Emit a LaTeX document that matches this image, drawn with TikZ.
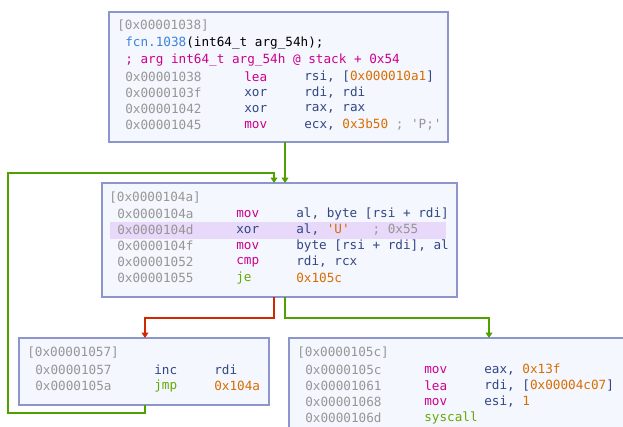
\documentclass[tikz,border=0pt]{standalone}
\usepackage{fontspec}
\setmonofont{DejaVu Sans Mono}
\usetikzlibrary{arrows.meta}
\definecolor{boxline}{RGB}{140,150,205}
\definecolor{boxfill}{RGB}{245,247,255}
\definecolor{addrgray}{RGB}{150,150,150}
\definecolor{opblue}{RGB}{50,70,130}
\definecolor{mnmag}{RGB}{205,0,140}
\definecolor{numorange}{RGB}{215,110,0}
\definecolor{jmpgreen}{RGB}{100,170,0}
\definecolor{fcnblue}{RGB}{60,130,220}
\definecolor{hilite}{RGB}{232,216,250}
\definecolor{edgegreen}{RGB}{80,160,0}
\definecolor{edgered}{RGB}{210,40,0}
\tikzset{
  block/.style={draw=boxline, fill=boxfill, line width=0.8pt},
  txt/.style={anchor=west, inner sep=0pt, font=\ttfamily\fontsize{9.5}{12}\selectfont},
  flow/.style={line width=1.3pt, -{Triangle[length=4pt,width=5pt]}},
}
% one line of disassembly: name, y, x of address, address, mnemonic, colour, operand
\newcommand\asmline[7]{%
  \node[txt, text=addrgray] (#1a) at (#3, #2) {#4};
  \node[txt, text=#6] (#1m) at (#3+119, #2) {#5};
  \node[txt, text=opblue] (#1o) at (#3+179, #2) {#7};
}
\begin{document}
\begin{tikzpicture}[x=0.75pt,y=0.75pt,yscale=-1,xscale=1]
  \useasboundingbox (0,0) rectangle (623,426);
  %blocks
  \draw[block] (109,12) rectangle (448,142);
  \draw[block] (102,183) rectangle (457,297);
  \fill[hilite] (110,222) rectangle (446,239);
  \draw[block] (19,338) rectangle (269,405);
  \draw[block] (289,338) rectangle (640,440);
  %
  %entry block
  \node[txt, text=addrgray] (h1) at (117,26) {[0x00001038]};
  \node[txt] (fcn) at (125,43) {\textcolor{fcnblue}{fcn.1038}(int64\_t arg\_54h);};
  \node[txt, text=mnmag] (arg) at (125,60) {; arg int64\_t arg\_54h @ stack + 0x54};
  \asmline{r1}{77}{125}{0x00001038}{lea}{mnmag}{rsi, [\textcolor{numorange}{0x000010a1}]}
  \asmline{r2}{93}{125}{0x0000103f}{xor}{opblue}{rdi, rdi}
  \asmline{r3}{109}{125}{0x00001042}{xor}{opblue}{rax, rax}
  \asmline{r4}{125}{125}{0x00001045}{mov}{mnmag}{ecx, \textcolor{numorange}{0x3b50} \textcolor{addrgray}{; 'P;'}}
  %
  %loop block
  \node[txt, text=addrgray] (h2) at (109,198) {[0x0000104a]};
  \asmline{s1}{214}{117}{0x0000104a}{mov}{mnmag}{al, byte [rsi + rdi]}
  \asmline{s2}{230}{117}{0x0000104d}{xor}{opblue}{al, \textcolor{numorange}{'U'}\ \ \ \textcolor{addrgray}{; 0x55}}
  \asmline{s3}{246}{117}{0x0000104f}{mov}{mnmag}{byte [rsi + rdi], al}
  \asmline{s4}{262}{117}{0x00001052}{cmp}{mnmag}{rdi, rcx}
  \asmline{s5}{278}{117}{0x00001055}{je}{jmpgreen}{\textcolor{numorange}{0x105c}}
  %
  %increment block
  \node[txt, text=addrgray] (h3) at (27,353) {[0x00001057]};
  \asmline{t1}{370}{35}{0x00001057}{inc}{opblue}{rdi}
  \asmline{t2}{386}{35}{0x0000105a}{jmp}{jmpgreen}{\textcolor{numorange}{0x104a}}
  %
  %exit block
  \node[txt, text=addrgray] (h4) at (297,353) {[0x0000105c]};
  \asmline{u1}{370}{305}{0x0000105c}{mov}{mnmag}{eax, \textcolor{numorange}{0x13f}}
  \asmline{u2}{386}{305}{0x00001061}{lea}{mnmag}{rdi, [\textcolor{numorange}{0x00004c07}]}
  \asmline{u3}{402}{305}{0x00001068}{mov}{mnmag}{esi, \textcolor{numorange}{1}}
  \asmline{u4}{418}{305}{0x0000106d}{syscall}{jmpgreen}{}
  %
  %edges
  \draw[flow, edgegreen] (285,142) -- (285,183);
  \draw[flow, edgegreen] (145,405) -- (145,413) -- (8,413) -- (8,173) -- (274,173) -- (274,183);
  \draw[flow, edgered] (274,297) -- (274,318) -- (145,318) -- (145,338);
  \draw[flow, edgegreen] (285,297) -- (285,318) -- (489,318) -- (489,338);
\end{tikzpicture}
\end{document}
